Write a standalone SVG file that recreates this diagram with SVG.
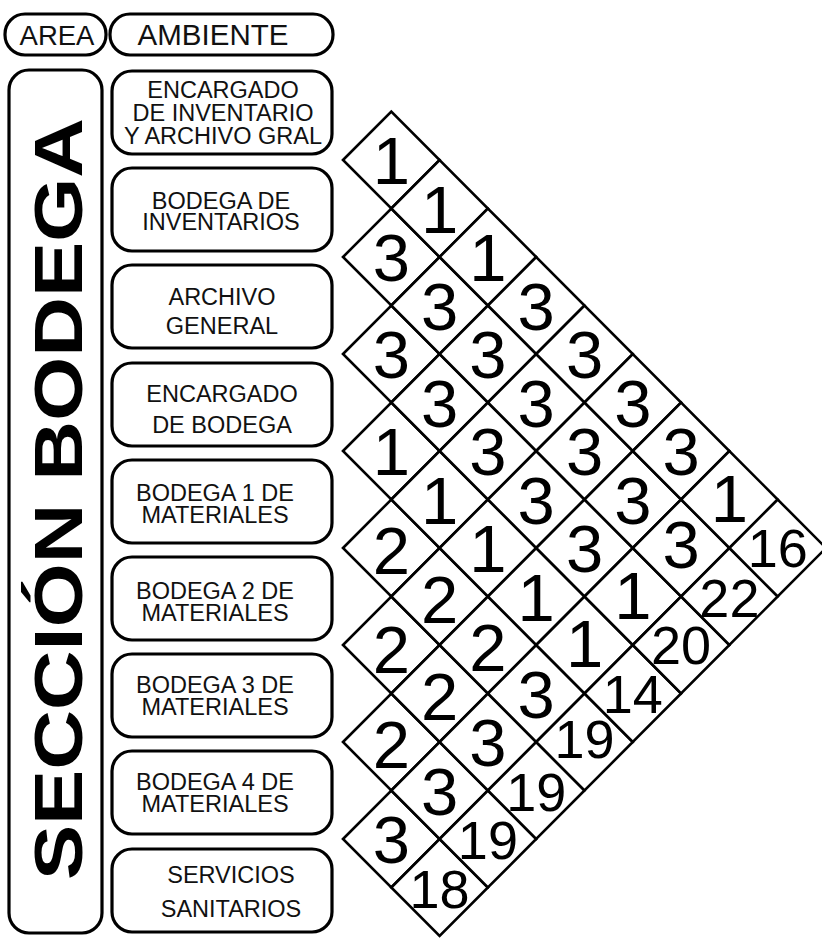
<svg xmlns="http://www.w3.org/2000/svg" xmlns:xlink="http://www.w3.org/1999/xlink" width="822" height="941" viewBox="0 0 822 941">
<style>
.bx{fill:#fff;stroke:#000;stroke-width:3.2}
.dm{fill:#fff;stroke:#000;stroke-width:2.6;stroke-linejoin:miter}
.lb{font-family:"Liberation Sans",Arial,sans-serif;font-size:23.5px;fill:#111;text-anchor:middle}
.n{font-family:"Liberation Sans",Arial,sans-serif;font-size:67px;fill:#000;text-anchor:middle}
.t{font-family:"Liberation Sans",Arial,sans-serif;font-size:54px;fill:#000;text-anchor:middle}
</style>
<defs>
<polygon id="dm" class="dm" points="-48.3,0 0,-48.5 48.3,0 0,48.5"/>
</defs>
<rect width="822" height="941" fill="#fff"/>
<g id="h-area"><rect class="bx" x="5" y="14" width="101" height="41" rx="20"/><text x="57" y="45" style="font-family:'Liberation Sans',Arial,sans-serif;font-size:27.5px;text-anchor:middle;fill:#111">AREA</text></g>
<g id="h-ambiente"><rect class="bx" x="110" y="14" width="223" height="41" rx="20"/><text x="213" y="45" style="font-family:'Liberation Sans',Arial,sans-serif;font-size:29.5px;text-anchor:middle;fill:#111">AMBIENTE</text></g>
<g id="area-seccion"><rect class="bx" x="9" y="70" width="93" height="863" rx="20"/><text transform="translate(82,880) rotate(-90)" textLength="762" lengthAdjust="spacingAndGlyphs" style="font-family:'Liberation Sans',Arial,sans-serif;font-size:68px;font-weight:bold;fill:#000">SECCIÓN BODEGA</text></g>
<g id="amb-1"><rect class="bx" x="112" y="71" width="220" height="83" rx="20"/><text class="lb" x="223" y="98">ENCARGADO</text><text class="lb" x="223" y="121">DE INVENTARIO</text><text class="lb" x="223" y="144">Y ARCHIVO GRAL</text></g>
<g id="amb-2"><rect class="bx" x="112" y="168" width="220" height="83" rx="20"/><text class="lb" x="221" y="209">BODEGA DE</text><text class="lb" x="221" y="230">INVENTARIOS</text></g>
<g id="amb-3"><rect class="bx" x="112" y="265" width="220" height="83" rx="20"/><text class="lb" x="222" y="305">ARCHIVO</text><text class="lb" x="222" y="334">GENERAL</text></g>
<g id="amb-4"><rect class="bx" x="112" y="363" width="220" height="83" rx="20"/><text class="lb" x="222" y="402">ENCARGADO</text><text class="lb" x="222" y="433">DE BODEGA</text></g>
<g id="amb-5"><rect class="bx" x="112" y="460" width="220" height="83" rx="20"/><text class="lb" x="215" y="501">BODEGA 1 DE</text><text class="lb" x="215" y="523">MATERIALES</text></g>
<g id="amb-6"><rect class="bx" x="112" y="557" width="220" height="83" rx="20"/><text class="lb" x="215" y="599">BODEGA 2 DE</text><text class="lb" x="215" y="621">MATERIALES</text></g>
<g id="amb-7"><rect class="bx" x="112" y="654" width="220" height="83" rx="20"/><text class="lb" x="215" y="693">BODEGA 3 DE</text><text class="lb" x="215" y="715">MATERIALES</text></g>
<g id="amb-8"><rect class="bx" x="112" y="751" width="220" height="83" rx="20"/><text class="lb" x="215" y="790">BODEGA 4 DE</text><text class="lb" x="215" y="812">MATERIALES</text></g>
<g id="amb-9"><rect class="bx" x="112" y="849" width="220" height="83" rx="20"/><text class="lb" x="231" y="883">SERVICIOS</text><text class="lb" x="231" y="917">SANITARIOS</text></g>
<g id="matrix">
<g id="c1-2" transform="translate(391.3,160)"><use xlink:href="#dm"/><text class="n" y="24">1</text></g>
<g id="c2-3" transform="translate(391.3,257)"><use xlink:href="#dm"/><text class="n" y="24">3</text></g>
<g id="c3-4" transform="translate(391.3,354)"><use xlink:href="#dm"/><text class="n" y="24">3</text></g>
<g id="c4-5" transform="translate(391.3,451)"><use xlink:href="#dm"/><text class="n" y="24">1</text></g>
<g id="c5-6" transform="translate(391.3,548)"><use xlink:href="#dm"/><text class="n" y="26">2</text></g>
<g id="c6-7" transform="translate(391.3,645)"><use xlink:href="#dm"/><text class="n" y="28">2</text></g>
<g id="c7-8" transform="translate(391.3,742)"><use xlink:href="#dm"/><text class="n" y="26">2</text></g>
<g id="c8-9" transform="translate(391.3,839)"><use xlink:href="#dm"/><text class="n" y="24">3</text></g>
<g id="c1-3" transform="translate(439.6,208.5)"><use xlink:href="#dm"/><text class="n" y="24">1</text></g>
<g id="c2-4" transform="translate(439.6,305.5)"><use xlink:href="#dm"/><text class="n" y="24">3</text></g>
<g id="c3-5" transform="translate(439.6,402.5)"><use xlink:href="#dm"/><text class="n" y="24">3</text></g>
<g id="c4-6" transform="translate(439.6,499.5)"><use xlink:href="#dm"/><text class="n" y="24">1</text></g>
<g id="c5-7" transform="translate(439.6,596.5)"><use xlink:href="#dm"/><text class="n" y="26">2</text></g>
<g id="c6-8" transform="translate(439.6,693.5)"><use xlink:href="#dm"/><text class="n" y="26">2</text></g>
<g id="c7-9" transform="translate(439.6,790.5)"><use xlink:href="#dm"/><text class="n" y="24">3</text></g>
<g id="t8" transform="translate(439.6,887.5)"><use xlink:href="#dm"/><text class="t" y="20">18</text></g>
<g id="c1-4" transform="translate(487.9,257)"><use xlink:href="#dm"/><text class="n" y="24">1</text></g>
<g id="c2-5" transform="translate(487.9,354)"><use xlink:href="#dm"/><text class="n" y="24">3</text></g>
<g id="c3-6" transform="translate(487.9,451)"><use xlink:href="#dm"/><text class="n" y="24">3</text></g>
<g id="c4-7" transform="translate(487.9,548)"><use xlink:href="#dm"/><text class="n" y="24">1</text></g>
<g id="c5-8" transform="translate(487.9,645)"><use xlink:href="#dm"/><text class="n" y="26">2</text></g>
<g id="c6-9" transform="translate(487.9,742)"><use xlink:href="#dm"/><text class="n" y="24">3</text></g>
<g id="t7" transform="translate(487.9,839)"><use xlink:href="#dm"/><text class="t" y="20">19</text></g>
<g id="c1-5" transform="translate(536.2,305.5)"><use xlink:href="#dm"/><text class="n" y="24">3</text></g>
<g id="c2-6" transform="translate(536.2,402.5)"><use xlink:href="#dm"/><text class="n" y="24">3</text></g>
<g id="c3-7" transform="translate(536.2,499.5)"><use xlink:href="#dm"/><text class="n" y="24">3</text></g>
<g id="c4-8" transform="translate(536.2,596.5)"><use xlink:href="#dm"/><text class="n" y="24">1</text></g>
<g id="c5-9" transform="translate(536.2,693.5)"><use xlink:href="#dm"/><text class="n" y="24">3</text></g>
<g id="t6" transform="translate(536.2,790.5)"><use xlink:href="#dm"/><text class="t" y="20">19</text></g>
<g id="c1-6" transform="translate(584.5,354)"><use xlink:href="#dm"/><text class="n" y="24">3</text></g>
<g id="c2-7" transform="translate(584.5,451)"><use xlink:href="#dm"/><text class="n" y="24">3</text></g>
<g id="c3-8" transform="translate(584.5,548)"><use xlink:href="#dm"/><text class="n" y="24">3</text></g>
<g id="c4-9" transform="translate(584.5,645)"><use xlink:href="#dm"/><text class="n" y="22">1</text></g>
<g id="t5" transform="translate(584.5,742)"><use xlink:href="#dm"/><text class="t" y="16">19</text></g>
<g id="c1-7" transform="translate(632.8,402.5)"><use xlink:href="#dm"/><text class="n" y="24">3</text></g>
<g id="c2-8" transform="translate(632.8,499.5)"><use xlink:href="#dm"/><text class="n" y="24">3</text></g>
<g id="c3-9" transform="translate(632.8,596.5)"><use xlink:href="#dm"/><text class="n" y="22">1</text></g>
<g id="t4" transform="translate(632.8,693.5)"><use xlink:href="#dm"/><text class="t" y="19">14</text></g>
<g id="c1-8" transform="translate(681.1,451)"><use xlink:href="#dm"/><text class="n" y="24">3</text></g>
<g id="c2-9" transform="translate(681.1,548)"><use xlink:href="#dm"/><text class="n" y="20">3</text></g>
<g id="t3" transform="translate(681.1,645)"><use xlink:href="#dm"/><text class="t" y="19">20</text></g>
<g id="c1-9" transform="translate(729.4,499.5)"><use xlink:href="#dm"/><text class="n" y="22">1</text></g>
<g id="t2" transform="translate(729.4,596.5)"><use xlink:href="#dm"/><text class="t" y="20">22</text></g>
<g id="t1" transform="translate(777.7,548)"><use xlink:href="#dm"/><text class="t" y="19">16</text></g>
</g>
<g id="connectors"/>
</svg>
